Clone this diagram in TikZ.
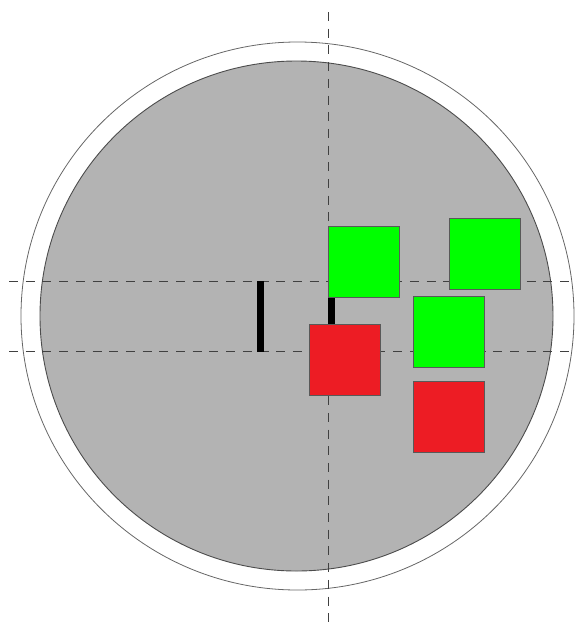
\documentclass[tikz,border=0pt]{standalone}
\begin{document}
\begin{tikzpicture}[x=1pt,y=-1pt,
  boxg/.style={draw=black!65,line width=0.8pt,fill={rgb,255:red,0;green,255;blue,0},minimum width=71pt,minimum height=71pt,inner sep=0pt,outer sep=0pt,anchor=north west},
  boxr/.style={draw=black!65,line width=0.8pt,fill={rgb,255:red,237;green,28;blue,36},minimum width=71pt,minimum height=71pt,inner sep=0pt,outer sep=0pt,anchor=north west},
  axis/.style={draw=black!75,line width=0.9pt,dash pattern=on 9pt off 7.7pt},
  bar/.style={line width=6.5pt,black}]
\useasboundingbox (0,0) rectangle (577,622);
% outer ring
\draw[black!60,line width=0.8pt] (297.5,316) ellipse [x radius=276.5, y radius=274];
% inner gray disc
\draw[black!70,line width=0.9pt,fill={rgb,255:red,179;green,179;blue,179}] (296.5,316) ellipse [x radius=256.5, y radius=255];
% axes
\coordinate (h1a) at (9,281); \coordinate (h1b) at (577,281);
\coordinate (h2a) at (9,351.5); \coordinate (h2b) at (577,351.5);
\coordinate (va) at (328,12); \coordinate (vb) at (328,622);
\draw[axis] (h1a) -- (h1b);
\draw[axis] (h2a) -- (h2b);
\draw[axis] (va) -- (vb);
% bars
\coordinate (b1a) at (260.5,281); \coordinate (b1b) at (260.5,352);
\coordinate (b2a) at (331.5,281); \coordinate (b2b) at (331.5,352);
\draw[bar] (b1a) -- (b1b);
\draw[bar] (b2a) -- (b2b);
% boxes
\node[boxg] (g1) at (328,226) {};
\node[boxg] (g2) at (449.5,218) {};
\node[boxg] (g3) at (413.5,296) {};
\node[boxr] (r1) at (309,324) {};
\node[boxr] (r2) at (413.5,381) {};
\end{tikzpicture}
\end{document}
